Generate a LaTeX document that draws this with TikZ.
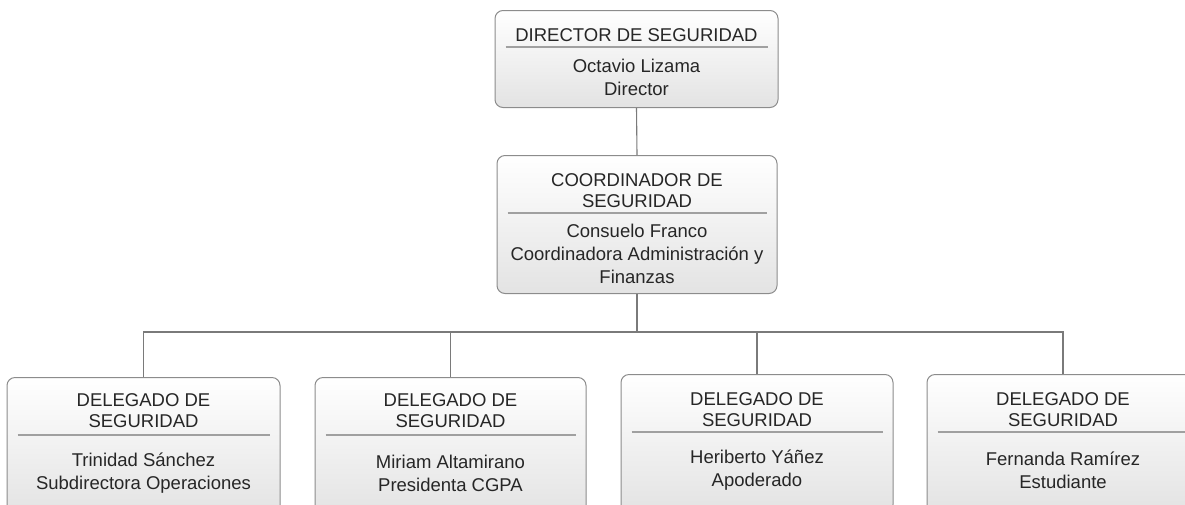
\documentclass[tikz,border=0pt]{standalone}
\usepackage{fontspec}
\setmainfont{Liberation Sans}
\usepackage{xcolor}
\usepackage{tikz}
\usetikzlibrary{positioning,calc}

\definecolor{boxline}{HTML}{8C8C8C}
\definecolor{boxshade}{HTML}{E3E3E3}
\definecolor{ruleline}{HTML}{A0A0A0}
\definecolor{linkline}{HTML}{7A7A7A}
\definecolor{ink}{HTML}{262626}

\tikzset{
  unit/.style={draw=boxline, line width=1pt, rounded corners=8pt, top color=white,
    bottom color=boxshade, anchor=north, inner sep=0pt},
  head/.style={font=\fontsize{18.5}{21}\selectfont, text=ink, align=center, inner sep=0pt},
  body/.style={font=\fontsize{18.5}{23}\selectfont, text=ink, align=center, inner sep=0pt},
  divider/.style={draw=ruleline, line width=1.3pt},
  link/.style={draw=linkline, line width=1.1pt}
}

\begin{document}
\begin{tikzpicture}[x=1pt, y=-1pt]
\useasboundingbox (0,0) rectangle (1185,504);
\clip (0,0) rectangle (1185,504);

% director
\node[unit, minimum width=283pt, minimum height=97pt] (dir) at (636.5,10) {};
\node[head] (dir-t) at ([yshift=-25pt]dir.north) {DIRECTOR DE SEGURIDAD};
\draw[divider] ([xshift=11pt,yshift=-37pt]dir.north west) -- ([xshift=-11pt,yshift=-37pt]dir.north east);
\node[body] (dir-b) at ([yshift=-67.5pt]dir.north) {Octavio Lizama\\Director};

% coordinator
\node[unit, minimum width=280pt, minimum height=138pt] (coord) at (637,155) {};
\node[head] (coord-t) at ([yshift=-35.5pt]coord.north) {COORDINADOR DE\\SEGURIDAD};
\draw[divider] ([xshift=11pt,yshift=-58pt]coord.north west) -- ([xshift=-11pt,yshift=-58pt]coord.north east);
\node[body] (coord-b) at ([yshift=-98.5pt]coord.north) {Consuelo Franco\\Coordinadora Administración y\\Finanzas};

% delegates
\node[unit, minimum width=273pt, minimum height=138pt] (del1) at (143.5,377) {};
\node[head] (del1-t) at ([yshift=-34pt]del1.north) {DELEGADO DE\\SEGURIDAD};
\draw[divider] ([xshift=11pt,yshift=-58pt]del1.north west) -- ([xshift=-11pt,yshift=-58pt]del1.north east);
\node[body] (del1-b) at ([yshift=-96.5pt]del1.north) {Trinidad Sánchez\\Subdirectora Operaciones};

\node[unit, minimum width=271pt, minimum height=138pt] (del2) at (450.5,377) {};
\node[head] (del2-t) at ([yshift=-34pt]del2.north) {DELEGADO DE\\SEGURIDAD};
\draw[divider] ([xshift=11pt,yshift=-58pt]del2.north west) -- ([xshift=-11pt,yshift=-58pt]del2.north east);
\node[body] (del2-b) at ([yshift=-96.5pt]del2.north) {Miriam Altamirano\\Presidenta CGPA};

\node[unit, minimum width=272pt, minimum height=138pt] (del3) at (757,374) {};
\node[head] (del3-t) at ([yshift=-35.5pt]del3.north) {DELEGADO DE\\SEGURIDAD};
\draw[divider] ([xshift=11pt,yshift=-58pt]del3.north west) -- ([xshift=-11pt,yshift=-58pt]del3.north east);
\node[body] (del3-b) at ([yshift=-96.5pt]del3.north) {Heriberto Yáñez\\Apoderado};

\node[unit, minimum width=272pt, minimum height=138pt] (del4) at (1063,374) {};
\node[head] (del4-t) at ([yshift=-35.5pt]del4.north) {DELEGADO DE\\SEGURIDAD};
\draw[divider] ([xshift=11pt,yshift=-58pt]del4.north west) -- ([xshift=-11pt,yshift=-58pt]del4.north east);
\node[body] (del4-b) at ([yshift=-96.5pt]del4.north) {Fernanda Ramírez\\Estudiante};

% links
\coordinate (bus) at (637,332);
\draw[link] (dir.south) -- (coord.north);
\draw[link] (coord.south) -- (bus);
\draw[link] (bus) -| (del1.north);
\draw[link] (bus) -| (del2.north);
\draw[link] (bus) -| (del3.north);
\draw[link] (bus) -| (del4.north);
\end{tikzpicture}
\end{document}
